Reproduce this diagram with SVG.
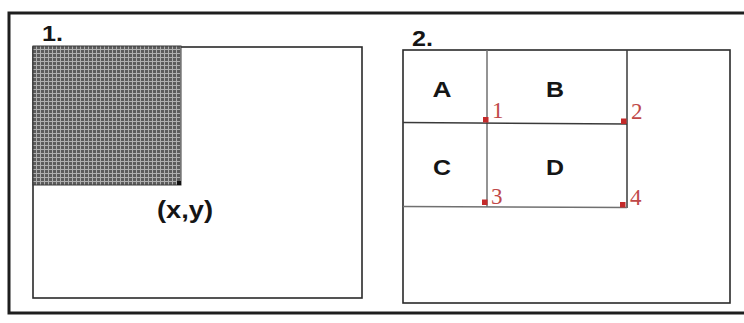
<svg xmlns="http://www.w3.org/2000/svg" width="744" height="323" viewBox="0 0 744 323">
<defs>
<pattern id="grid" x="33" y="46" width="4" height="4" patternUnits="userSpaceOnUse">
<rect width="4" height="4" fill="#5c5c5c"/>
<rect x="0" y="3" width="4" height="1" fill="#b0b0b0"/>
<rect x="3" y="0" width="1" height="4" fill="#b0b0b0"/>
</pattern>
<style>
.frame{fill:none;stroke:#1e1e1e;stroke-width:3}
.panel{fill:#fff;stroke:#2a2a2a;stroke-width:1.6}
.lbl{font-family:"Liberation Sans",Arial,sans-serif;font-weight:bold;fill:#151515}
.div{stroke:#3a3a3a;stroke-width:1.5;fill:none}
.divl{stroke:#707070;stroke-width:1.5;fill:none}
.pt{fill:#c42a2a}
.num{font-family:"Liberation Serif","Times New Roman",serif;font-size:23px;fill:#c04848}
</style>
</defs>
<rect width="744" height="323" fill="#fff"/>
<g id="frame">
<path class="frame" d="M746,13 L9,13 L9,313 L746,313"/>
</g>
<g id="panel1">
<rect class="panel" x="33" y="47" width="329" height="251"/>
<rect x="33" y="46" width="148" height="139" fill="url(#grid)" stroke="#3a3a3a" stroke-width="1"/>
<rect x="177" y="181" width="4" height="4" fill="#111"/>
<text class="lbl" x="42" y="41" font-size="22" textLength="21" lengthAdjust="spacingAndGlyphs">1.</text>
<text class="lbl" x="157" y="218" font-size="23" textLength="56" lengthAdjust="spacingAndGlyphs">(x,y)</text>
</g>
<g id="panel2">
<rect class="panel" x="403" y="50" width="327" height="253"/>
<text class="lbl" x="412" y="46" font-size="22" textLength="21" lengthAdjust="spacingAndGlyphs">2.</text>
</g>
<g id="connectors">
<line class="divl" x1="487" y1="50" x2="487" y2="207"/>
<line class="div" x1="627" y1="50" x2="627" y2="208"/>
<line class="div" x1="403" y1="122.5" x2="627" y2="124"/>
<line class="divl" x1="403" y1="206.5" x2="627" y2="207.5"/>
</g>
<g id="A"><text class="lbl" x="442" y="97" font-size="22" text-anchor="middle" textLength="19" lengthAdjust="spacingAndGlyphs">A</text></g>
<g id="B"><text class="lbl" x="555" y="97" font-size="22" text-anchor="middle" textLength="18" lengthAdjust="spacingAndGlyphs">B</text></g>
<g id="C"><text class="lbl" x="442" y="175" font-size="22" text-anchor="middle" textLength="18" lengthAdjust="spacingAndGlyphs">C</text></g>
<g id="D"><text class="lbl" x="555" y="175" font-size="22" text-anchor="middle" textLength="18" lengthAdjust="spacingAndGlyphs">D</text></g>
<g id="p1"><rect class="pt" x="483" y="117" width="5.5" height="5.5"/><text class="num" x="492" y="118">1</text></g>
<g id="p2"><rect class="pt" x="621" y="118.5" width="5.5" height="5.5"/><text class="num" x="631" y="119">2</text></g>
<g id="p3"><rect class="pt" x="482" y="199.5" width="5.5" height="5.5"/><text class="num" x="491" y="204">3</text></g>
<g id="p4"><rect class="pt" x="620" y="202" width="5.5" height="5.5"/><text class="num" x="630" y="205">4</text></g>
</svg>
